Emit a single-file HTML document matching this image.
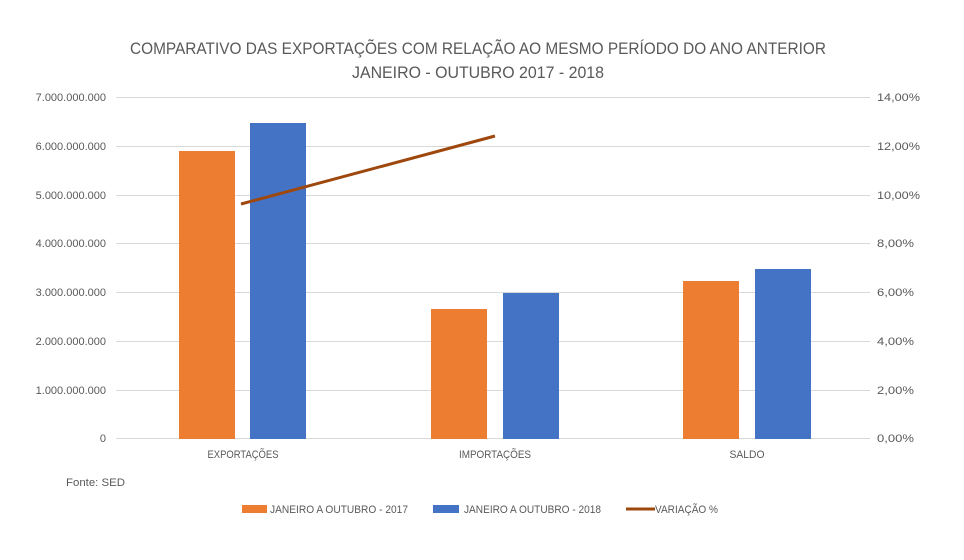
<!DOCTYPE html>
<html><head><meta charset="utf-8"><style>
body{margin:0;background:#fff;}
svg{display:block;font-family:"Liberation Sans",sans-serif;}
</style></head><body>
<svg width="964" height="560" xmlns="http://www.w3.org/2000/svg">
<rect width="964" height="560" fill="#fff"/>
<g fill="#595959" font-size="17" text-anchor="middle">
<text x="478" y="54" textLength="696" lengthAdjust="spacingAndGlyphs">COMPARATIVO DAS EXPORTAÇÕES COM RELAÇÃO AO MESMO PERÍODO DO ANO ANTERIOR</text>
<text x="478" y="78" textLength="252" lengthAdjust="spacingAndGlyphs">JANEIRO - OUTUBRO 2017 - 2018</text>
</g>
<g stroke="#d9d9d9" stroke-width="1">
<line x1="116" x2="870" y1="97.5" y2="97.5"/>
<line x1="116" x2="870" y1="146.5" y2="146.5"/>
<line x1="116" x2="870" y1="195.5" y2="195.5"/>
<line x1="116" x2="870" y1="243.5" y2="243.5"/>
<line x1="116" x2="870" y1="292.5" y2="292.5"/>
<line x1="116" x2="870" y1="341.5" y2="341.5"/>
<line x1="116" x2="870" y1="390.5" y2="390.5"/>
<line x1="116" x2="870" y1="438.5" y2="438.5"/>
</g>
<g fill="#595959" font-size="11" text-anchor="end">
<text x="106" y="101">7.000.000.000</text>
<text x="106" y="150">6.000.000.000</text>
<text x="106" y="199">5.000.000.000</text>
<text x="106" y="247">4.000.000.000</text>
<text x="106" y="296">3.000.000.000</text>
<text x="106" y="345">2.000.000.000</text>
<text x="106" y="394">1.000.000.000</text>
<text x="106" y="442">0</text>
</g>
<g fill="#595959" font-size="11">
<text x="877" y="101" textLength="43" lengthAdjust="spacingAndGlyphs">14,00%</text>
<text x="877" y="150" textLength="43" lengthAdjust="spacingAndGlyphs">12,00%</text>
<text x="877" y="199" textLength="43" lengthAdjust="spacingAndGlyphs">10,00%</text>
<text x="877" y="247" textLength="37" lengthAdjust="spacingAndGlyphs">8,00%</text>
<text x="877" y="296" textLength="37" lengthAdjust="spacingAndGlyphs">6,00%</text>
<text x="877" y="345" textLength="37" lengthAdjust="spacingAndGlyphs">4,00%</text>
<text x="877" y="394" textLength="37" lengthAdjust="spacingAndGlyphs">2,00%</text>
<text x="877" y="442" textLength="37" lengthAdjust="spacingAndGlyphs">0,00%</text>
</g>
<g fill="#ed7d31">
<rect x="179" y="151" width="56" height="288"/>
<rect x="431" y="309" width="56" height="130"/>
<rect x="683" y="281" width="56" height="158"/>
</g>
<g fill="#4472c4">
<rect x="250" y="123" width="56" height="316"/>
<rect x="503" y="293" width="56" height="146"/>
<rect x="755" y="269" width="56" height="170"/>
</g>
<line x1="241" y1="204" x2="495" y2="136" stroke="#9e480e" stroke-width="3"/>
<g fill="#595959" font-size="11" text-anchor="middle">
<text x="243" y="458" textLength="71" lengthAdjust="spacingAndGlyphs">EXPORTAÇÕES</text>
<text x="495" y="458" textLength="72" lengthAdjust="spacingAndGlyphs">IMPORTAÇÕES</text>
<text x="747" y="458" textLength="35" lengthAdjust="spacingAndGlyphs">SALDO</text>
</g>
<text x="66" y="486" fill="#595959" font-size="11" textLength="59" lengthAdjust="spacingAndGlyphs">Fonte: SED</text>
<rect x="242" y="505" width="25" height="8" fill="#ed7d31"/>
<text x="270" y="513" fill="#595959" font-size="11" textLength="138" lengthAdjust="spacingAndGlyphs">JANEIRO A OUTUBRO - 2017</text>
<rect x="433" y="505" width="26" height="8" fill="#4472c4"/>
<text x="464" y="513" fill="#595959" font-size="11" textLength="137" lengthAdjust="spacingAndGlyphs">JANEIRO A OUTUBRO - 2018</text>
<line x1="626" y1="509" x2="655" y2="509" stroke="#9e480e" stroke-width="3"/>
<text x="655" y="513" fill="#595959" font-size="11" textLength="63" lengthAdjust="spacingAndGlyphs">VARIAÇÃO %</text>
</svg>
</body></html>
